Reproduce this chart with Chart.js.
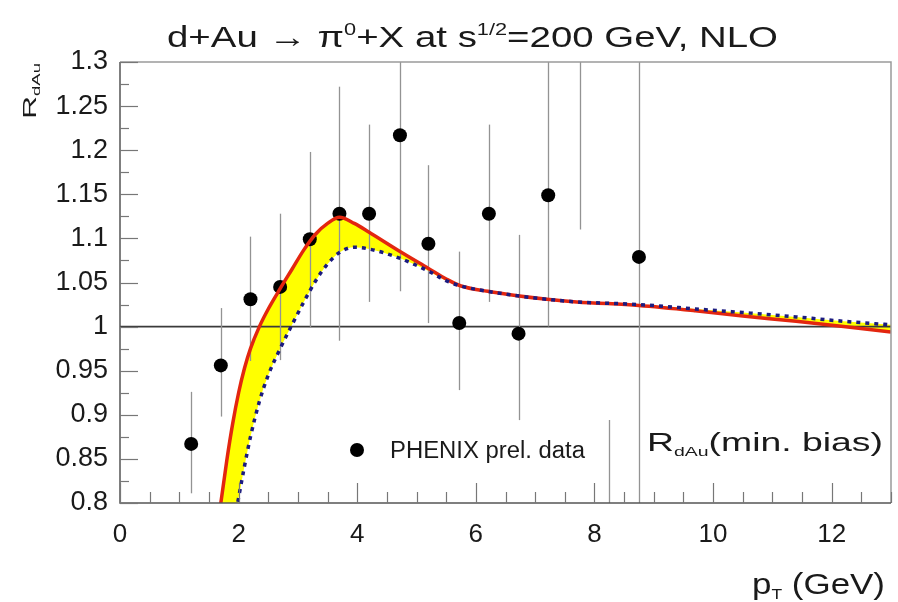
<!DOCTYPE html>
<html>
<head>
<meta charset="utf-8">
<script src="https://cdn.jsdelivr.net/npm/chart.js@4.4.1/dist/chart.umd.min.js"></script>
<style>
  html, body { margin: 0; padding: 0; background: #fff; }
  #wrap { width: 898px; height: 602px; }
</style>
</head>
<body>
<div id="wrap"><canvas id="rdau" width="898" height="602"></canvas></div>
<script>
// PHENIX preliminary pi0 R_dAu, min. bias (points + asymmetric error bars)
const ptData   = [1.2, 1.7, 2.2, 2.7, 3.2, 3.7, 4.2, 4.72, 5.2, 5.72, 6.22, 6.72, 7.22, 7.75, 8.25, 8.75];
const rData    = [0.867, 0.956, 1.031, 1.045, 1.099, 1.128, 1.128, 1.217, 1.094, 1.004, 1.128, 0.992, 1.149, 1.36, 0.70, 1.079];
const rErrLow  = [0.811, 0.898, 0.961, 0.962, 0.999, 0.984, 1.028, 1.040, 1.004, 0.928, 1.028, 0.894, 1.000, 1.110, 0.510, 0.790];
const rErrHigh = [0.926, 1.021, 1.102, 1.128, 1.198, 1.272, 1.229, 1.400, 1.183, 1.085, 1.229, 1.104, 1.300, 1.610, 0.894, 1.370];

// NLO band: upper edge (solid red) and lower edge (dotted blue)
const ptCurve = [1.6, 1.7, 1.8, 1.9, 2.0, 2.1, 2.2, 2.35, 2.5, 2.7, 2.9, 3.1, 3.3, 3.5, 3.7, 3.95, 4.2, 4.7, 5.2, 5.5, 5.75, 6.2, 6.7, 7.2, 7.7, 8.75, 9.7, 10.5, 11.4, 12.2, 13.0];
const rUpper  = [0.748, 0.800, 0.848, 0.890, 0.925, 0.953, 0.975, 1.000, 1.020, 1.043, 1.065, 1.087, 1.105, 1.117, 1.124, 1.117, 1.107, 1.086, 1.066, 1.054, 1.046, 1.040, 1.035, 1.031, 1.028, 1.024, 1.018, 1.012, 1.006, 1.000, 0.994];
const rLower  = [0.640, 0.690, 0.730, 0.768, 0.806, 0.842, 0.875, 0.915, 0.945, 0.975, 1.002, 1.028, 1.052, 1.071, 1.084, 1.090, 1.088, 1.078, 1.063, 1.052, 1.046, 1.040, 1.035, 1.031, 1.028, 1.025, 1.020, 1.016, 1.011, 1.006, 1.002];

// axes
const xTicks = [0, 2, 4, 6, 8, 10, 12];
const yTicks = [0.8, 0.85, 0.9, 0.95, 1.0, 1.05, 1.1, 1.15, 1.2, 1.25, 1.3];
const refLine = 1;

const FONT = '"Liberation Sans", Arial, Helvetica, sans-serif';
const INK = '#1a1a1a';

// draws a row of text pieces (sub/superscripts via dy), optionally stretched to a width
function drawRuns(ctx, runs, x, y, align, width) {
  let total = 0;
  runs.forEach(r => {
    ctx.font = r.size + 'px ' + FONT;
    r.w = ctx.measureText(r.text).width;
    total += r.w;
  });
  const sx = width ? width / total : 1;
  let start = x;
  if (align === 'right') start = x - total * sx;
  if (align === 'center') start = x - total * sx / 2;
  ctx.save();
  ctx.translate(start, y);
  ctx.scale(sx, 1);
  ctx.textAlign = 'left';
  ctx.textBaseline = 'alphabetic';
  ctx.fillStyle = INK;
  let cx = 0;
  runs.forEach(r => {
    ctx.font = r.size + 'px ' + FONT;
    ctx.fillText(r.text, cx, r.dy || 0);
    cx += r.w;
  });
  ctx.restore();
}

const decorations = {
  id: 'decorations',
  beforeDatasetsDraw(chart) {
    const { ctx, chartArea: a, scales: { x, y } } = chart;
    ctx.save();
    ctx.beginPath();
    ctx.rect(a.left, a.top, a.right - a.left, a.bottom - a.top);
    ctx.clip();

    // reference line at R = 1
    ctx.strokeStyle = '#3a3a3a';
    ctx.lineWidth = 1.6;
    ctx.beginPath();
    ctx.moveTo(a.left, y.getPixelForValue(refLine));
    ctx.lineTo(a.right, y.getPixelForValue(refLine));
    ctx.stroke();

    // error bars
    ctx.strokeStyle = '#939393';
    ctx.lineWidth = 1.3;
    ptData.forEach((pt, i) => {
      const px = Math.round(x.getPixelForValue(pt)) + 0.5;
      ctx.beginPath();
      ctx.moveTo(px, y.getPixelForValue(rErrLow[i]));
      ctx.lineTo(px, y.getPixelForValue(rErrHigh[i]));
      ctx.stroke();
    });
    ctx.restore();
  },
  afterDraw(chart) {
    const { ctx, chartArea: a, scales: { x, y } } = chart;
    ctx.save();

    // frame
    ctx.lineWidth = 1.5;
    ctx.strokeStyle = '#9a9a9a';
    ctx.beginPath();
    ctx.moveTo(a.left, a.top);
    ctx.lineTo(a.right, a.top);
    ctx.lineTo(a.right, a.bottom);
    ctx.stroke();
    ctx.strokeStyle = '#555';
    ctx.beginPath();
    ctx.moveTo(a.left, a.top);
    ctx.lineTo(a.left, a.bottom);
    ctx.lineTo(a.right, a.bottom);
    ctx.stroke();

    // inner tick marks
    ctx.strokeStyle = '#777';
    ctx.lineWidth = 1.2;
    for (let k = 0; k <= 20; k++) {
      const v = 0.8 + k * 0.025;
      const py = Math.round(y.getPixelForValue(v)) + 0.5;
      const len = k % 2 === 0 ? 18 : 9;
      ctx.beginPath();
      ctx.moveTo(a.left, py);
      ctx.lineTo(a.left + len, py);
      ctx.stroke();
    }
    for (let k = 0; k <= 26; k++) {
      const v = k * 0.5;
      const px = Math.round(x.getPixelForValue(v)) + 0.5;
      const len = k % 4 === 0 ? 20 : 11;
      ctx.beginPath();
      ctx.moveTo(px, a.bottom);
      ctx.lineTo(px, a.bottom - len);
      ctx.stroke();
    }

    // title
    drawRuns(ctx, [
      { text: 'd+Au ', size: 30 },
      { text: '\u2192', size: 30 },
      { text: ' \u03c0', size: 30 },
      { text: '0', size: 17, dy: -12 },
      { text: '+X at s', size: 30 },
      { text: '1/2', size: 17, dy: -12 },
      { text: '=200 GeV, NLO', size: 30 }
    ], 167, 47, 'left', 611);

    // y axis title, rotated
    ctx.save();
    ctx.translate(36, 119);
    ctx.rotate(-Math.PI / 2);
    drawRuns(ctx, [
      { text: 'R', size: 19 },
      { text: 'dAu', size: 11, dy: 4 }
    ], 0, 0, 'left', 56);
    ctx.restore();

    // x axis title
    drawRuns(ctx, [
      { text: 'p', size: 30 },
      { text: 'T', size: 15, dy: 5 },
      { text: ' (GeV)', size: 30 }
    ], 885, 594, 'right', 133);

    // legend
    ctx.fillStyle = '#000';
    ctx.beginPath();
    ctx.arc(357, 450, 7, 0, Math.PI * 2);
    ctx.fill();
    drawRuns(ctx, [{ text: 'PHENIX prel. data', size: 23 }], 390, 458, 'left', 195);

    drawRuns(ctx, [
      { text: 'R', size: 25 },
      { text: 'dAu', size: 13, dy: 5 },
      { text: '(min. bias)', size: 25 }
    ], 647, 451, 'left', 236);

    ctx.restore();
  }
};

new Chart(document.getElementById('rdau'), {
  type: 'scatter',
  data: {
    datasets: [
      {
        label: 'NLO upper',
        data: ptCurve.map((pt, i) => ({ x: pt, y: rUpper[i] })),
        showLine: true,
        borderColor: '#e3260f',
        borderWidth: 3.5,
        pointRadius: 0,
        cubicInterpolationMode: 'monotone',
        fill: '+1',
        backgroundColor: '#ffff00',
        order: 1
      },
      {
        label: 'NLO lower',
        data: ptCurve.map((pt, i) => ({ x: pt, y: rLower[i] })),
        showLine: true,
        borderColor: '#1b1b80',
        borderWidth: 3.5,
        borderDash: [4, 5],
        pointRadius: 0,
        cubicInterpolationMode: 'monotone',
        fill: false,
        order: 0
      },
      {
        label: 'PHENIX prel. data',
        data: ptData.map((pt, i) => ({ x: pt, y: rData[i] })),
        pointRadius: 7,
        pointBackgroundColor: '#000',
        pointBorderWidth: 0,
        order: 2
      }
    ]
  },
  options: {
    responsive: false,
    devicePixelRatio: 1,
    animation: false,
    events: [],
    layout: { padding: { top: 62, right: 5, left: 0, bottom: 0 } },
    plugins: {
      legend: { display: false },
      tooltip: { enabled: false },
      filler: { drawTime: 'beforeDatasetsDraw' }
    },
    scales: {
      x: {
        type: 'linear',
        min: 0,
        max: 13,
        afterBuildTicks: s => { s.ticks = xTicks.map(v => ({ value: v })); },
        afterFit: s => { s.height = 99; },
        grid: { display: false, drawTicks: false },
        border: { display: false },
        ticks: { font: { family: FONT, size: 26 }, color: INK, padding: 16, maxRotation: 0 }
      },
      y: {
        type: 'linear',
        min: 0.8,
        max: 1.3,
        afterBuildTicks: s => { s.ticks = yTicks.map(v => ({ value: v })); },
        afterFit: s => { s.width = 120; },
        grid: { display: false, drawTicks: false },
        border: { display: false },
        ticks: {
          font: { family: FONT, size: 27 },
          color: INK,
          padding: 12,
          callback: v => String(Math.round(v * 100) / 100)
        }
      }
    }
  },
  plugins: [decorations]
});
</script>
</body>
</html>
